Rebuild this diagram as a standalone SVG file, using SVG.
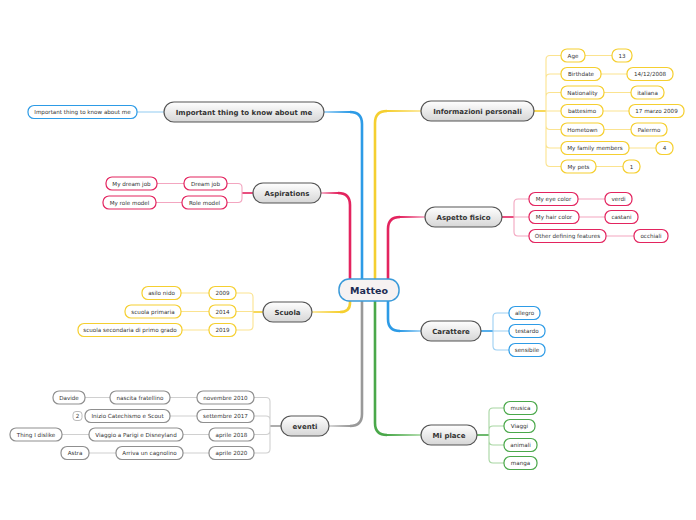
<svg xmlns="http://www.w3.org/2000/svg" width="696" height="520" viewBox="0 0 696 520">
<defs>
<linearGradient id="g" x1="0" y1="0" x2="0" y2="1"><stop offset="0" stop-color="#ffffff"/><stop offset="1" stop-color="#d6d6d6"/></linearGradient>
<linearGradient id="gpL" x1="1" y1="0" x2="0" y2="0"><stop offset="0" stop-color="#e3245f"/><stop offset="1" stop-color="#f6b3ca"/></linearGradient>
<linearGradient id="gpR" x1="0" y1="0" x2="1" y2="0"><stop offset="0" stop-color="#e3245f"/><stop offset="1" stop-color="#f6b3ca"/></linearGradient>
<linearGradient id="gbL" x1="1" y1="0" x2="0" y2="0"><stop offset="0" stop-color="#2d9be6"/><stop offset="1" stop-color="#a8d6f6"/></linearGradient>
<linearGradient id="gbR" x1="0" y1="0" x2="1" y2="0"><stop offset="0" stop-color="#2d9be6"/><stop offset="1" stop-color="#a8d6f6"/></linearGradient>
<linearGradient id="gyL" x1="1" y1="0" x2="0" y2="0"><stop offset="0" stop-color="#f5cf30"/><stop offset="1" stop-color="#fce9a0"/></linearGradient>
<linearGradient id="gyR" x1="0" y1="0" x2="1" y2="0"><stop offset="0" stop-color="#f5cf30"/><stop offset="1" stop-color="#fce9a0"/></linearGradient>
<linearGradient id="gkL" x1="1" y1="0" x2="0" y2="0"><stop offset="0" stop-color="#999"/><stop offset="1" stop-color="#d8d8d8"/></linearGradient>
<linearGradient id="ggR" x1="0" y1="0" x2="1" y2="0"><stop offset="0" stop-color="#4aa84a"/><stop offset="1" stop-color="#b5deb0"/></linearGradient>
</defs>
<style>
.m{fill:url(#g);stroke:#555;stroke-width:1.2}
.mt{font-family:"DejaVu Sans",Verdana,sans-serif;font-size:7px;font-weight:bold;fill:#333;text-anchor:middle}
.s{fill:#fff;stroke-width:1.2}
.st{font-family:"DejaVu Sans",Verdana,sans-serif;font-size:5.6px;fill:#333;text-anchor:middle}
.b{stroke:#2d9be6}.p{stroke:#e3245f}.y{stroke:#f5cf30}.gr{stroke:#4aa84a}.k{stroke:#8f8f8f}
.l{fill:none;stroke-width:1.1}
.lb{stroke:#9ccff3}.lp{stroke:#f3a6c0}.ly{stroke:#fbe38f}.lg{stroke:#a7d6a2}.lk{stroke:#d0d0d0}
.t{fill:none;stroke-width:2.6}
.h{fill:none;stroke-width:2}
</style>
<g id="connectors">
<path class="t" stroke="#e3245f" d="M350,280 V205 Q350,193 338,193"/>
<path class="h" stroke="url(#gpL)" d="M338,193 H321 V193.01"/>
<path class="t" stroke="#2d9be6" d="M362,280 V124 Q362,112 350,112"/>
<path class="h" stroke="url(#gbL)" d="M350,112 H324 V112.01"/>
<path class="t" stroke="#f5cf30" d="M375,280 V123 Q375,111 387,111"/>
<path class="h" stroke="url(#gyR)" d="M387,111 H421 V111.01"/>
<path class="t" stroke="#e3245f" d="M388,280 V229 Q388,217 400,217"/>
<path class="h" stroke="url(#gpR)" d="M400,217 H425 V217.01"/>
<path class="t" stroke="#f5cf30" d="M350,300 V303 Q350,312 340,312"/>
<path class="h" stroke="url(#gyL)" d="M340,312 H312 V312.01"/>
<path class="t" stroke="#999" d="M362,300 V414 Q362,426 350,426"/>
<path class="h" stroke="url(#gkL)" d="M350,426 H329 V426.01"/>
<path class="t" stroke="#4aa84a" d="M375,300 V423 Q375,435 387,435"/>
<path class="h" stroke="url(#ggR)" d="M387,435 H421 V435.01"/>
<path class="t" stroke="#2d9be6" d="M388,300 V319 Q388,331 400,331"/>
<path class="h" stroke="url(#gbR)" d="M400,331 H421 V331.01"/>
<!-- important -->
<path class="l lb" d="M164,112 H137"/>
<!-- aspirations -->
<path fill="none" stroke="#e3245f" stroke-width="1.6" d="M253,193 H242"/>
<path class="l lp" d="M242,193 V187.5 Q242,183.5 238,183.5 H227 M242,193 V198.5 Q242,202.5 238,202.5 H227 M184,183.5 H157 M182,202.5 H156"/>
<!-- scuola -->
<path fill="none" stroke="#f5cf30" stroke-width="1.6" d="M263,312 H253"/>
<path class="l ly" d="M253,312 V297 Q253,293 249,293 H236 M253,312 V311.5 H236 M253,312 V326 Q253,330 249,330 H236 M209,293 H181 M209,311.5 H181 M209,330 H182"/>
<!-- eventi -->
<path fill="none" stroke="#999" stroke-width="1.6" d="M281,426 H270"/>
<path class="l lk" d="M270,426 V401.5 Q270,397.5 266,397.5 H254 M270,426 V420 Q270,416 266,416 H254 M270,426 V430.5 Q270,434.5 266,434.5 H254 M270,426 V449 Q270,453 266,453 H254 M197,397.5 H170 M197,416 H170 M209,434.5 H183 M209,453 H183 M110,397.5 H85 M89,434.5 H62 M116,453 H89"/>
<!-- informazioni -->
<path fill="none" stroke="#f5cf30" stroke-width="1.6" d="M534,111 H546"/>
<path class="l ly" d="M546,111 V59.5 Q546,55.5 550,55.5 H561 M546,111 V78 Q546,74 550,74 H561 M546,111 V96.5 Q546,92.5 550,92.5 H561 M546,111 H561 M546,111 V125.5 Q546,129.5 550,129.5 H561 M546,111 V144 Q546,148 550,148 H561 M546,111 V162.5 Q546,166.5 550,166.5 H561 M585,55.5 H612 M601,74 H627 M604,92.5 H631 M603,111 H629 M604,129.5 H631 M629,148 H656 M596,166.5 H623"/>
<!-- aspetto -->
<path fill="none" stroke="#e3245f" stroke-width="1.6" d="M502,217 H514"/>
<path class="l lp" d="M514,217 V203 Q514,199 518,199 H529 M514,217 H529 M514,217 V232 Q514,236 518,236 H529 M578,199 H605 M579,217 H605 M606,236 H634"/>
<!-- carattere -->
<path fill="none" stroke="#2d9be6" stroke-width="1.6" d="M481,331 H493"/>
<path class="l lb" d="M493,331 V317 Q493,313 497,313 H509 M493,331 H509 M493,331 V346 Q493,350 497,350 H509"/>
<!-- mi place -->
<path fill="none" stroke="#4aa84a" stroke-width="1.6" d="M477,435 H489"/>
<path class="l lg" d="M489,435 V412 Q489,408 493,408 H504 M489,435 V430 Q489,426 493,426 H504 M489,435 V441 Q489,445 493,445 H504 M489,435 V459 Q489,463 493,463 H504"/>
</g>

<g id="matteo">
<rect x="339" y="279" width="60" height="22" rx="10" fill="#f6f2f2" stroke="#3a9ad9" stroke-width="1.5"/>
<text x="369" y="293.5" font-family="DejaVu Sans,Verdana,sans-serif" font-size="9.5" font-weight="bold" fill="#1b2b52" text-anchor="middle">Matteo</text>
</g>

<g id="important">
<rect class="m" x="164" y="102" width="160" height="20" rx="10"/><text class="mt" x="244" y="114.5">Important thing to know about me</text>
<rect class="s b" x="28" y="105.5" width="109" height="13" rx="6"/><text class="st" x="82.5" y="114">Important thing to know about me</text>
</g>

<g id="aspirations">
<rect class="m" x="253" y="183" width="68" height="20" rx="10"/><text class="mt" x="287" y="195.5">Aspirations</text>
<rect class="s p" x="184" y="177" width="43" height="13" rx="6"/><text class="st" x="205.5" y="185.5">Dream job</text>
<rect class="s p" x="182" y="196" width="45" height="13" rx="6"/><text class="st" x="204.5" y="204.5">Role model</text>
<rect class="s p" x="106" y="177" width="51" height="13" rx="6"/><text class="st" x="131.5" y="185.5">My dream job</text>
<rect class="s p" x="103" y="196" width="53" height="13" rx="6"/><text class="st" x="129.5" y="204.5">My role model</text>
</g>

<g id="scuola">
<rect class="m" x="263" y="302" width="49" height="20" rx="10"/><text class="mt" x="287.5" y="314.5">Scuola</text>
<rect class="s y" x="209" y="286.5" width="27" height="13" rx="6"/><text class="st" x="222.5" y="295">2009</text>
<rect class="s y" x="209" y="305" width="27" height="13" rx="6"/><text class="st" x="222.5" y="313.5">2014</text>
<rect class="s y" x="209" y="323.5" width="27" height="13" rx="6"/><text class="st" x="222.5" y="332">2019</text>
<rect class="s y" x="142" y="286.5" width="39" height="13" rx="6"/><text class="st" x="161.5" y="295">asilo nido</text>
<rect class="s y" x="125" y="305" width="56" height="13" rx="6"/><text class="st" x="153" y="313.5">scuola primaria</text>
<rect class="s y" x="78" y="323.5" width="104" height="13" rx="6"/><text class="st" x="130" y="332">scuola secondaria di primo grado</text>
</g>

<g id="eventi">
<rect class="m" x="281" y="416" width="48" height="20" rx="10"/><text class="mt" x="305" y="428.5">eventi</text>
<rect class="s k" x="197" y="391" width="57" height="13" rx="6"/><text class="st" x="225.5" y="399.5">novembre 2010</text>
<rect class="s k" x="197" y="409.5" width="57" height="13" rx="6"/><text class="st" x="225.5" y="418">settembre 2017</text>
<rect class="s k" x="209" y="428" width="45" height="13" rx="6"/><text class="st" x="231.5" y="436.5">aprile 2018</text>
<rect class="s k" x="209" y="446.5" width="45" height="13" rx="6"/><text class="st" x="231.5" y="455">aprile 2020</text>
<rect class="s k" x="110" y="391" width="60" height="13" rx="6"/><text class="st" x="140" y="399.5">nascita fratellino</text>
<rect class="s k" x="85" y="409.5" width="85" height="13" rx="6"/><text class="st" x="127.5" y="418">Inizio Catechismo e Scout</text>
<rect class="s k" x="89" y="428" width="94" height="13" rx="6"/><text class="st" x="136" y="436.5">Viaggio a Parigi e Disneyland</text>
<rect class="s k" x="116" y="446.5" width="67" height="13" rx="6"/><text class="st" x="149.5" y="455">Arriva un cagnolino</text>
<rect class="s k" x="53" y="391" width="32" height="13" rx="6"/><text class="st" x="69" y="399.5">Davide</text>
<rect x="73" y="411.5" width="9" height="9" rx="3" fill="#fff" stroke="#aaa" stroke-width="0.8"/><text class="st" x="77.5" y="418" font-size="5.2">2</text>
<rect class="s k" x="10" y="428" width="52" height="13" rx="6"/><text class="st" x="36" y="436.5">Thing I dislike</text>
<rect class="s k" x="61" y="446.5" width="28" height="13" rx="6"/><text class="st" x="75" y="455">Astra</text>
</g>

<g id="informazioni">
<rect class="m" x="421" y="101" width="113" height="20" rx="10"/><text class="mt" x="477.5" y="113.5">Informazioni personali</text>
<rect class="s y" x="561" y="49" width="24" height="13" rx="6"/><text class="st" x="573" y="57.5">Age</text>
<rect class="s y" x="561" y="67.5" width="40" height="13" rx="6"/><text class="st" x="581" y="76">Birthdate</text>
<rect class="s y" x="561" y="86" width="43" height="13" rx="6"/><text class="st" x="582.5" y="94.5">Nationality</text>
<rect class="s y" x="561" y="104.5" width="42" height="13" rx="6"/><text class="st" x="582" y="113">battesimo</text>
<rect class="s y" x="561" y="123" width="43" height="13" rx="6"/><text class="st" x="582.5" y="131.5">Hometown</text>
<rect class="s y" x="561" y="141.5" width="68" height="13" rx="6"/><text class="st" x="595" y="150">My family members</text>
<rect class="s y" x="561" y="160" width="35" height="13" rx="6"/><text class="st" x="578.5" y="168.5">My pets</text>
<rect class="s y" x="612" y="49" width="20" height="13" rx="6"/><text class="st" x="622" y="57.5">13</text>
<rect class="s y" x="627" y="67.5" width="46" height="13" rx="6"/><text class="st" x="650" y="76">14/12/2008</text>
<rect class="s y" x="631" y="86" width="33" height="13" rx="6"/><text class="st" x="647.5" y="94.5">italiana</text>
<rect class="s y" x="629" y="104.5" width="55" height="13" rx="6"/><text class="st" x="656.5" y="113">17 marzo 2009</text>
<rect class="s y" x="631" y="123" width="36" height="13" rx="6"/><text class="st" x="649" y="131.5">Palermo</text>
<rect class="s y" x="656" y="141.5" width="17" height="13" rx="6"/><text class="st" x="664.5" y="150">4</text>
<rect class="s y" x="623" y="160" width="17" height="13" rx="6"/><text class="st" x="631.5" y="168.5">1</text>
</g>

<g id="aspetto">
<rect class="m" x="425" y="207" width="77" height="20" rx="10"/><text class="mt" x="463.5" y="219.5">Aspetto fisico</text>
<rect class="s p" x="529" y="192.5" width="49" height="13" rx="6"/><text class="st" x="553.5" y="201">My eye color</text>
<rect class="s p" x="529" y="210.5" width="50" height="13" rx="6"/><text class="st" x="554" y="219">My hair color</text>
<rect class="s p" x="529" y="229.5" width="77" height="13" rx="6"/><text class="st" x="567.5" y="238">Other defining features</text>
<rect class="s p" x="605" y="192.5" width="27" height="13" rx="6"/><text class="st" x="618.5" y="201">verdi</text>
<rect class="s p" x="605" y="210.5" width="33" height="13" rx="6"/><text class="st" x="621.5" y="219">castani</text>
<rect class="s p" x="634" y="229.5" width="34" height="13" rx="6"/><text class="st" x="651" y="238">occhiali</text>
</g>

<g id="carattere">
<rect class="m" x="421" y="321" width="60" height="20" rx="10"/><text class="mt" x="451" y="333.5">Carattere</text>
<rect class="s b" x="509" y="306.5" width="31" height="13" rx="6"/><text class="st" x="524.5" y="315">allegro</text>
<rect class="s b" x="509" y="324.5" width="36" height="13" rx="6"/><text class="st" x="527" y="333">testardo</text>
<rect class="s b" x="509" y="343.5" width="36" height="13" rx="6"/><text class="st" x="527" y="352">sensibile</text>
</g>

<g id="miplace">
<rect class="m" x="421" y="425" width="56" height="20" rx="10"/><text class="mt" x="449" y="437.5">Mi place</text>
<rect class="s gr" x="504" y="401.5" width="33" height="13" rx="6"/><text class="st" x="520.5" y="410">musica</text>
<rect class="s gr" x="504" y="419.5" width="31" height="13" rx="6"/><text class="st" x="519.5" y="428">Viaggi</text>
<rect class="s gr" x="504" y="438.5" width="33" height="13" rx="6"/><text class="st" x="520.5" y="447">animali</text>
<rect class="s gr" x="504" y="456.5" width="33" height="13" rx="6"/><text class="st" x="520.5" y="465">manga</text>
</g>
</svg>
